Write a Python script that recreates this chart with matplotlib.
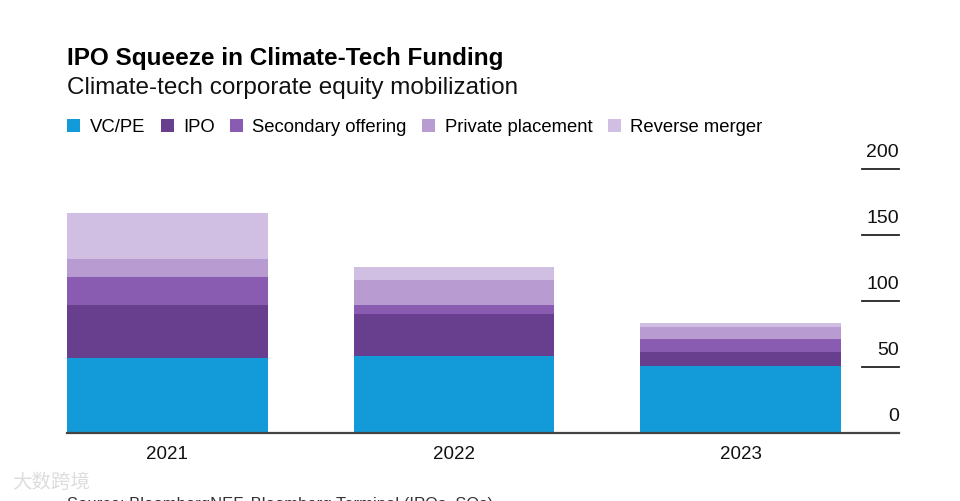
import matplotlib.pyplot as plt
import numpy as np

# --- Données (en milliards $) ---
years = ["2021", "2022", "2023"]
series = ["VC/PE", "IPO", "Secondary offering", "Private placement", "Reverse merger"]
vc_pe = [57, 58, 51]
ipo = [40, 32, 10]
secondary = [21, 7, 10]
private = [14, 19, 9]
reverse = [35, 10, 3]
yticks = [0, 50, 100, 150, 200]

colors = ["#129bd8", "#683f8e", "#8a5cb1", "#b89bd0", "#d0bfe2"]
values = [vc_pe, ipo, secondary, private, reverse]

plt.rcParams["font.family"] = ["Liberation Sans", "DejaVu Sans"]

fig = plt.figure(figsize=(9.6, 5.02), dpi=100)
ax = fig.add_axes([67 / 960, 1 - 434 / 502, (899 - 67) / 960, (434 - 170) / 502])

x = np.arange(len(years))
bottom = np.zeros(len(years))
for name, vals, c in zip(series, values, colors):
    ax.bar(x, vals, width=0.7, bottom=bottom, color=c, label=name, zorder=2)
    bottom += np.array(vals)

ax.set_xlim(-0.35, 2.553)
ax.set_ylim(0, 200)
for s in ax.spines.values():
    s.set_visible(False)
ax.set_xticks([])
ax.set_yticks([])

# --- Axe de base + graduations à droite ---
ax.axhline(0, color="#444444", lw=1.6, zorder=3, clip_on=False)
trans = ax.get_yaxis_transform()
for t in yticks[1:]:
    ax.plot([0.955, 1.0], [t, t], color="#222222", lw=1.3, transform=trans, clip_on=False)
for t in yticks:
    ax.text(1.0, t + 6.5, str(t), transform=trans, ha="right", va="bottom",
            fontsize=14, color="#111111")

for xi, yr in zip(x, years):
    ax.text(xi, -9, yr, ha="center", va="top", fontsize=13.5, color="#111111")

# --- Titres ---
fig.text(67 / 960, 1 - 58 / 502, "IPO Squeeze in Climate-Tech Funding", fontsize=17.5,
         fontweight="bold", va="center", ha="left", color="#000000")
fig.text(67 / 960, 1 - 88 / 502, "Climate-tech corporate equity mobilization", fontsize=17.5,
         va="center", ha="left", color="#111111")

# --- Légende ---
leg = fig.legend(loc="center left", bbox_to_anchor=(60 / 960, 1 - 128 / 502), ncol=5,
                 frameon=False, fontsize=13.3, handlelength=0.7, handleheight=0.7,
                 handletextpad=0.5, columnspacing=0.85, borderaxespad=0)

fig.text(67 / 960, 1 - 497 / 502, "Source: BloombergNEF, Bloomberg Terminal (IPOs, SOs)",
         fontsize=12, va="top", ha="left", color="#333333")
fig.text(12 / 960, 1 - 482 / 502, "大数跨境", fontsize=14, va="center", ha="left",
         color="#dddddd", family=["Noto Sans CJK SC", "DejaVu Sans"])

fig.savefig("out.png", dpi=100)
